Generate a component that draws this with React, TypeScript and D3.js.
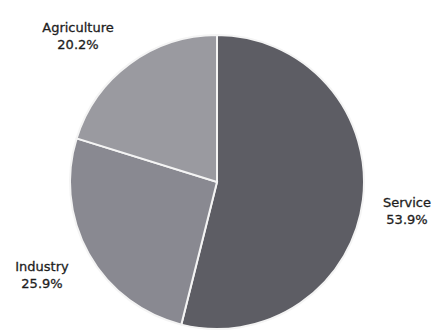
import React from "react";
import * as d3 from "d3";

const categories = ["Service", "Industry", "Agriculture"];
const values = [53.9, 25.9, 20.2];
const colors = ["#5d5d64", "#898991", "#9a9aa0"];
const labelPos: Record<string, [number, number]> = {
  Service: [407, 207],
  Industry: [42, 271],
  Agriculture: [78, 32],
};

export default function App() {
  const W = 433, H = 332;
  const cx = 217, cy = 182, r = 147;
  const data = categories.map((c, i) => ({ c, v: values[i], color: colors[i] }));
  const pie = d3.pie<any>().sort(null).value((d: any) => d.v);
  const arc = d3.arc<any>().innerRadius(0).outerRadius(r);
  const arcs = pie(data);
  return (
    <div style={{ position: "fixed", left: 0, top: 0, width: W, height: H, background: "#fff" }}>
      <svg width={W} height={H} style={{ display: "block" }}>
        <rect width={W} height={H} fill="#ffffff" />
        <g transform={`translate(${cx},${cy})`}>
          {arcs.map((a, i) => (
            <path key={i} d={arc(a) as string} fill={a.data.color} stroke="#f4f4f4" strokeWidth={2} />
          ))}
        </g>
        {data.map((d, i) => {
          const [x, y] = labelPos[d.c];
          return (
            <text key={i} x={x} y={y} textAnchor="middle" fontFamily="DejaVu Sans, Verdana, sans-serif" fontSize={13} fill="#1e1e1e" stroke="#1e1e1e" strokeWidth={0.3}>
              <tspan x={x} dy={0}>{d.c}</tspan>
              <tspan x={x} dy={17}>{d.v.toFixed(1)}%</tspan>
            </text>
          );
        })}
      </svg>
    </div>
  );
}
